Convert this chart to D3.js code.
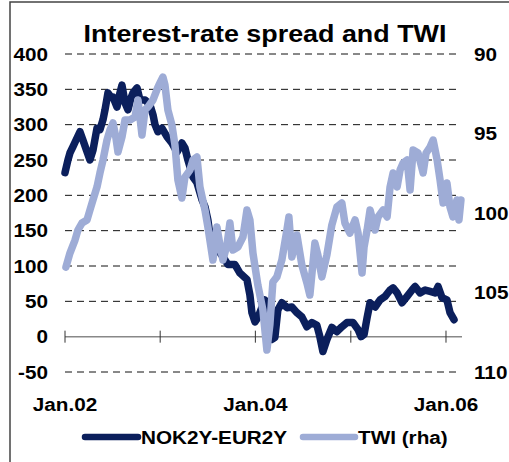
<!DOCTYPE html>
<html><head><meta charset="utf-8">
<script src="https://cdn.jsdelivr.net/npm/d3@7"></script>
<style>body{margin:0;background:#fff}svg{display:block}text{font-family:Arial,"Liberation Sans",sans-serif;font-weight:bold;fill:#000}</style>
</head><body>
<svg id="c" width="509" height="462"></svg>
<script>
const title = "Interest-rate spread and TWI";
const seriesNames = ["NOK2Y-EUR2Y", "TWI (rha)"];
const leftTicks = [-50, 0, 50, 100, 150, 200, 250, 300, 350, 400];
const rightTicks = [90, 95, 100, 105, 110];
const xTickYears = [2002, 2003, 2004, 2005, 2006];
const xLabelYears = [2002, 2004, 2006];

const spreadYears = [2002.000,2002.031,2002.052,2002.084,2002.115,2002.157,2002.189,2002.220,2002.262,2002.294,2002.336,2002.367,2002.399,2002.420,2002.451,2002.483,2002.504,2002.546,2002.577,2002.598,2002.630,2002.661,2002.693,2002.714,2002.756,2002.787,2002.840,2002.871,2002.892,2002.924,2002.945,2002.976,2003.018,2003.071,2003.123,2003.176,2003.228,2003.260,2003.291,2003.344,2003.386,2003.438,2003.470,2003.501,2003.522,2003.554,2003.606,2003.659,2003.711,2003.785,2003.837,2003.911,2003.942,2003.963,2003.995,2004.026,2004.047,2004.100,2004.131,2004.173,2004.205,2004.236,2004.278,2004.331,2004.383,2004.436,2004.488,2004.541,2004.593,2004.646,2004.677,2004.709,2004.751,2004.803,2004.856,2004.908,2004.961,2005.024,2005.076,2005.108,2005.139,2005.171,2005.202,2005.255,2005.307,2005.360,2005.412,2005.444,2005.486,2005.538,2005.591,2005.643,2005.675,2005.727,2005.780,2005.832,2005.885,2005.916,2005.958,2006.010,2006.042,2006.084];
const spreadValues = [232,250,260,269,278,290,278,266,250,264,295,293,307,321,345,339,339,325,345,356,331,321,338,345,352,335,335,331,328,314,300,290,295,283,274,261,274,267,250,226,218,194,184,165,144,137,123,113,102,102,90,81,59,34,21,27,34,52,20,-4,-1,38,48,41,42,34,28,14,20,16,0,-21,-4,13,7,14,20,20,10,0,3,27,48,42,52,57,66,69,62,48,57,66,71,62,66,64,62,71,55,52,34,24];

const twiYears = [2002.010,2002.052,2002.105,2002.136,2002.178,2002.231,2002.262,2002.294,2002.336,2002.367,2002.399,2002.441,2002.472,2002.504,2002.535,2002.556,2002.598,2002.630,2002.682,2002.735,2002.766,2002.808,2002.840,2002.871,2002.924,2002.976,2002.997,2003.029,2003.050,2003.081,2003.123,2003.155,2003.186,2003.228,2003.260,2003.312,2003.344,2003.386,2003.417,2003.470,2003.501,2003.554,2003.596,2003.627,2003.659,2003.701,2003.732,2003.764,2003.816,2003.869,2003.911,2003.942,2003.974,2004.026,2004.079,2004.121,2004.152,2004.184,2004.226,2004.278,2004.331,2004.352,2004.383,2004.436,2004.488,2004.541,2004.572,2004.625,2004.656,2004.698,2004.751,2004.803,2004.856,2004.908,2004.940,2004.992,2005.045,2005.076,2005.118,2005.139,2005.171,2005.202,2005.255,2005.286,2005.339,2005.381,2005.412,2005.444,2005.486,2005.517,2005.549,2005.591,2005.622,2005.654,2005.706,2005.759,2005.790,2005.832,2005.864,2005.906,2005.937,2005.969,2006.010,2006.042,2006.073,2006.115,2006.136,2006.157];
const twiValues = [103.40,102.52,101.70,101.07,100.63,100.44,99.81,99.18,98.36,97.48,96.67,95.41,94.78,94.34,95.28,96.16,95.22,94.15,94.15,93.96,92.89,95.09,93.52,93.33,92.89,92.08,91.82,91.45,91.95,93.52,94.47,95.72,97.92,99.06,97.74,97.30,96.67,96.48,98.36,99.81,100.88,102.96,100.88,102.01,102.96,102.01,100.63,102.33,102.14,101.51,99.81,100.44,102.52,104.53,106.10,108.62,107.04,104.34,104.02,102.96,101.07,100.25,102.77,101.38,103.27,104.40,105.16,101.89,102.64,104.02,102.64,100.75,99.62,99.37,100.63,101.26,100.44,101.26,103.77,102.14,101.07,99.81,101.07,100.25,99.81,100.25,98.36,97.48,98.36,97.30,96.86,96.67,98.55,96.04,96.23,97.48,96.23,95.85,95.41,96.67,97.92,99.37,98.11,99.62,100.25,99.18,100.44,99.18];

const darkColor = "#0b1f5c", lightColor = "#9eacd6";
function toDate(y){const yr=Math.floor(y);return new Date(Date.UTC(yr,0,1)+(y-yr)*365.25*864e5);}

const svg = d3.select("#c");
const SX = 1.12;
function txt(x,y,s,size,anchor){
  return svg.append("text").attr("transform",`translate(${x},${y}) scale(${SX},1)`)
    .attr("text-anchor",anchor||"start").style("font-size",size+"px").text(s);
}

const x = d3.scaleUtc().domain([toDate(2002), toDate(2006.168)]).range([65, 462]);
const yL = d3.scaleLinear().domain([-50, 400]).range([372, 54]);
const yR = d3.scaleLinear().domain([90, 110]).range([54, 372]);

// frame
svg.append("rect").attr("x",10).attr("y",2).attr("width",700).attr("height",700)
  .attr("fill","none").attr("stroke","#444").attr("stroke-width",1.5);

// gridlines
svg.append("g").selectAll("line").data(leftTicks.filter(d=>d!==0)).join("line")
  .attr("x1",65).attr("x2",460).attr("y1",d=>yL(d)).attr("y2",d=>yL(d))
  .attr("stroke","#111").attr("stroke-width",1).attr("stroke-dasharray","7,5");

// zero axis
svg.append("line").attr("x1",65).attr("x2",462).attr("y1",yL(0)).attr("y2",yL(0))
  .attr("stroke","#888").attr("stroke-width",1.5);
svg.append("g").selectAll("line").data(xTickYears).join("line")
  .attr("x1",d=>x(toDate(d))).attr("x2",d=>x(toDate(d)))
  .attr("y1",yL(0)-6).attr("y2",yL(0)+6).attr("stroke","#333").attr("stroke-width",1);

// lines
const spread = spreadYears.map((d,i)=>({d:toDate(d),v:spreadValues[i]}));
const twi = twiYears.map((d,i)=>({d:toDate(d),v:twiValues[i]}));
svg.append("path").datum(spread)
  .attr("d", d3.line().x(p=>x(p.d)).y(p=>yL(p.v)))
  .attr("fill","none").attr("stroke",darkColor).attr("stroke-width",7.5)
  .attr("stroke-linejoin","round").attr("stroke-linecap","round");
svg.append("path").datum(twi)
  .attr("d", d3.line().x(p=>x(p.d)).y(p=>yR(p.v)))
  .attr("fill","none").attr("stroke",lightColor).attr("stroke-width",7.5)
  .attr("stroke-linejoin","round").attr("stroke-linecap","round");

// axis labels
leftTicks.forEach(t=>txt(48, yL(t)+6.5, String(t), 18.5, "end"));
rightTicks.forEach(t=>txt(474, yR(t)+6.5, String(t), 18.5, "start"));
xLabelYears.forEach(t=>txt(x(toDate(t)), 411, "Jan."+String(t).slice(2), 18.5, "middle"));

// title
txt(265, 42, title, 24, "middle");

// legend
svg.append("line").attr("x1",85).attr("x2",138).attr("y1",437).attr("y2",437)
  .attr("stroke",darkColor).attr("stroke-width",6.5).attr("stroke-linecap","round");
txt(141, 443.5, seriesNames[0], 18.5, "start");
svg.append("line").attr("x1",303).attr("x2",355).attr("y1",437).attr("y2",437)
  .attr("stroke",lightColor).attr("stroke-width",6.5).attr("stroke-linecap","round");
txt(358, 443.5, seriesNames[1], 18.5, "start");
</script>
</body></html>
